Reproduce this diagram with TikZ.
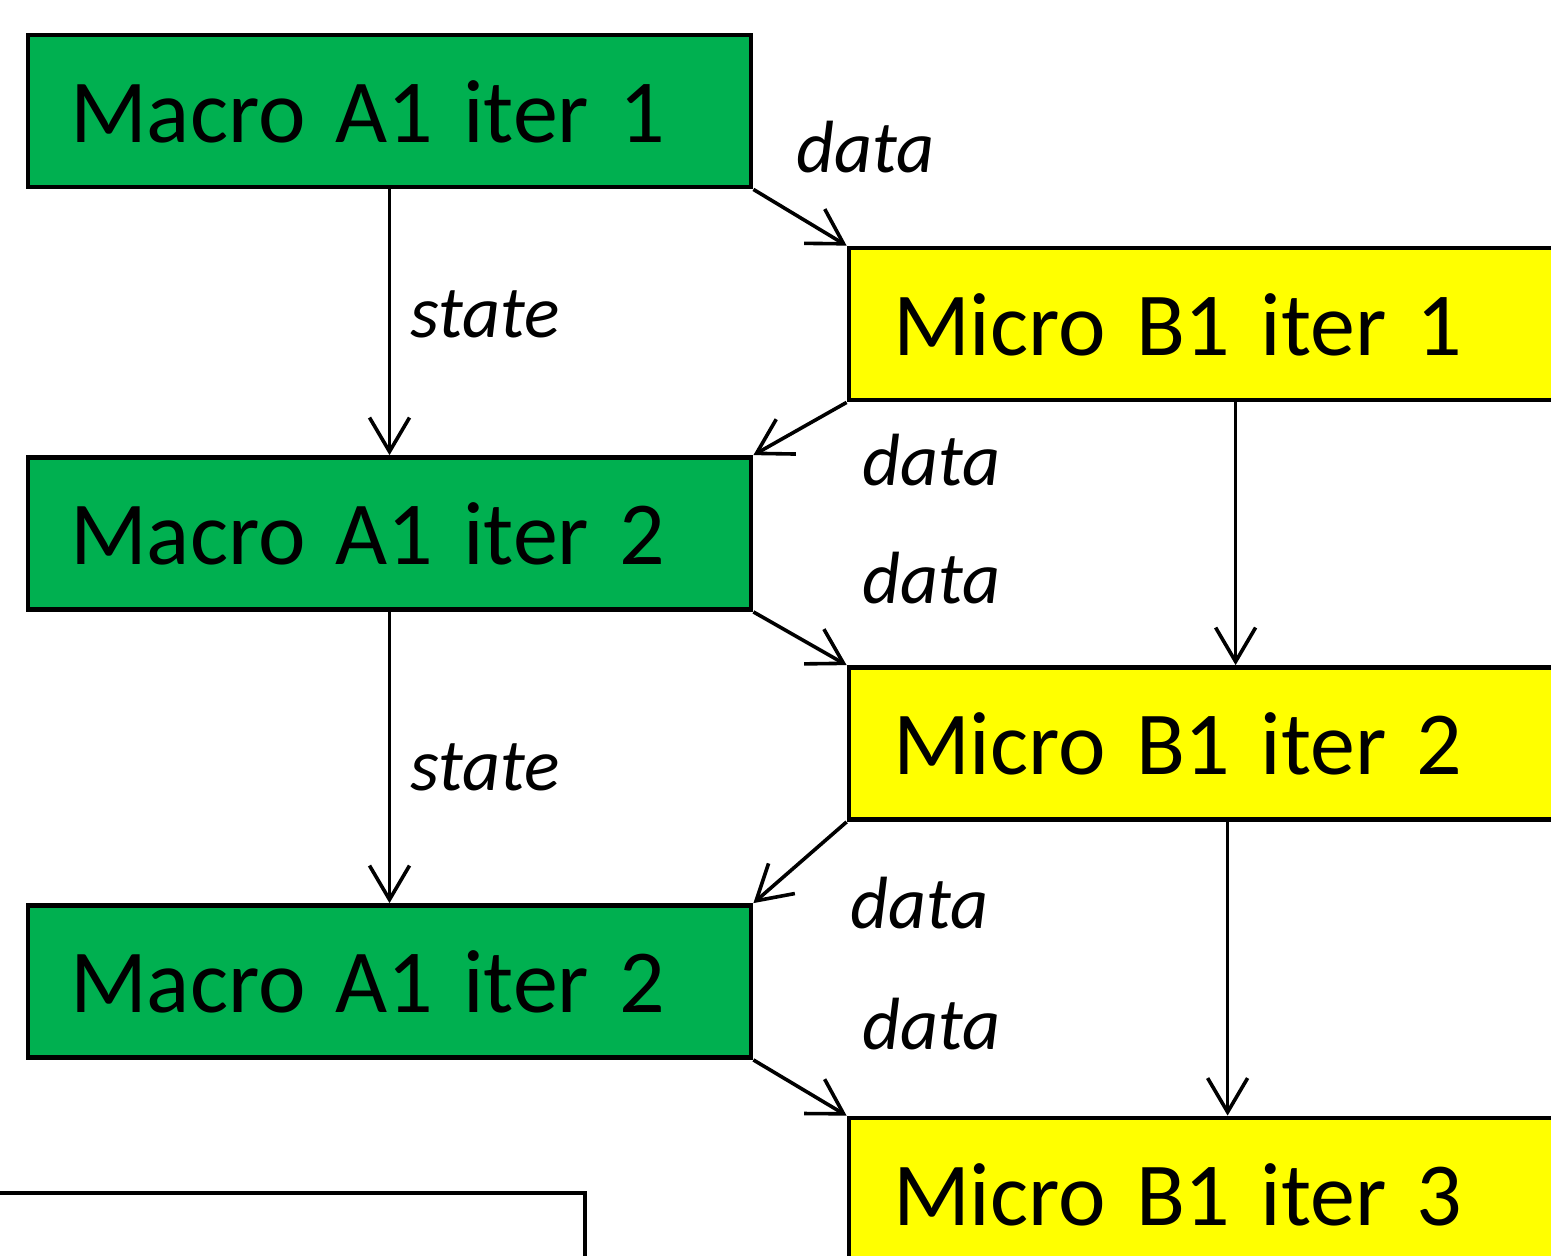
\documentclass[tikz,border=0pt]{standalone}
\usepackage{fontspec}
\setmainfont{Carlito}
\usetikzlibrary{arrows.meta, positioning}

\definecolor{macrogreen}{HTML}{00B050}
\definecolor{microyellow}{HTML}{FFFF00}

\begin{document}
\begin{tikzpicture}[
            x=0.5pt, y=-0.5pt,
            macro/.style={
                draw, line width=2.4pt, fill=macrogreen,
                inner xsep=21pt, text width=319.5pt, align=left,
                minimum height=76pt, text height=31pt, text depth=0pt,
                font=\fontsize{45}{50}\selectfont
            },
            micro/.style={
                macro, fill=microyellow,
                inner xsep=22pt, text width=346pt
            },
            outline/.style={
                draw, line width=2.4pt, fill=white,
                minimum width=297.5pt, minimum height=53.5pt
            },
            flow/.style={
                line width=1.8pt,
                -{Straight Barb[length=17pt, width=20pt]}
            },
            tag/.style={
                inner sep=0pt, anchor=base west,
                font=\itshape\fontsize{37}{40}\selectfont
            }
        ]
        \clip (0, 0) rectangle (1551, 1255);

        % left column
        \node[macro] (a1) at (389.5, 111)    {Macro A1 iter 1};
        \node[macro] (a2) at (389.5, 533.5)  {Macro A1 iter 2};
        \node[macro] (a3) at (389.5, 981.5)  {Macro A1 iter 2};

        % right column
        \node[micro] (b1) at (1239, 324)     {Micro B1 iter 1};
        \node[micro] (b2) at (1239, 743.5)   {Micro B1 iter 2};
        \node[micro] (b3) at (1239, 1194)    {Micro B1 iter 3};

        \node[outline] (box) at (287.5, 1246.5) {};

        % state
        \draw[flow] (a1.south) -- (a2.north)
            node[tag, at start, xshift=9.5pt, yshift=-74pt] {state};
        \draw[flow] (a2.south) -- (a3.north)
            node[tag, at start, xshift=9.5pt, yshift=-89.5pt] {state};

        \draw[flow] ([xshift=194.5pt]b1.south west) -- ([xshift=194.5pt]b2.north west);
        \draw[flow] ([xshift=190.5pt]b2.south west) -- ([xshift=190.5pt]b3.north west);

        % data
        \draw[flow] (a1.south east) -- (b1.north west)
            node[tag, at start, xshift=20.5pt, yshift=8.5pt] {data};
        \draw[flow] (b1.south west) -- (a2.north east)
            node[tag, at start, xshift=7pt, yshift=-41.5pt] {data};
        \draw[flow] (a2.south east) -- (b2.north west)
            node[tag, at end, xshift=7pt, yshift=31pt] {data};
        \draw[flow] (b2.south west) -- (a3.north east)
            node[tag, at start, xshift=1pt, yshift=-53.5pt] {data};
        \draw[flow] (a3.south east) -- (b3.north west)
            node[tag, at end, xshift=7pt, yshift=33pt] {data};
    \end{tikzpicture}
\end{document}
